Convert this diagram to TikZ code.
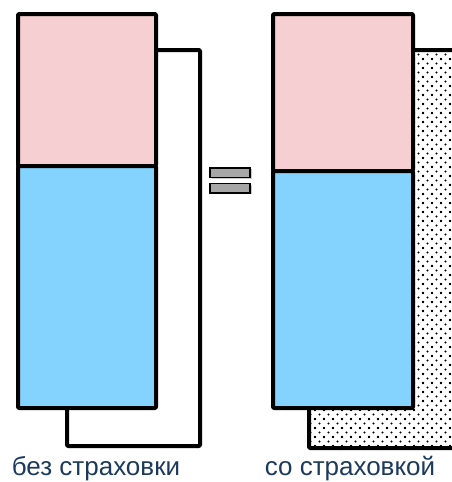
\documentclass[tikz,border=0pt]{standalone}
\usepackage{fontspec}
\setmainfont{Liberation Sans}
\usetikzlibrary{patterns,shadows}
\definecolor{pinkc}{HTML}{F5CFD1}
\definecolor{bluec}{HTML}{83D3FE}
\definecolor{txtc}{HTML}{1B3A5C}
\definecolor{barc}{HTML}{A6A6A6}
\pgfdeclarepatternformonly{stagdots}{\pgfpoint{-1.5pt}{-1.5pt}}{\pgfpoint{10.5pt}{10.5pt}}{\pgfpoint{9pt}{9pt}}{%
  \pgfpathcircle{\pgfpoint{0pt}{0pt}}{1.1pt}
  \pgfpathcircle{\pgfpoint{4.5pt}{4.5pt}}{1.1pt}
  \pgfpathcircle{\pgfpoint{9pt}{0pt}}{1.1pt}
  \pgfpathcircle{\pgfpoint{0pt}{9pt}}{1.1pt}
  \pgfpathcircle{\pgfpoint{9pt}{9pt}}{1.1pt}
  \pgfusepath{fill}}
\tikzset{
  frame/.style={draw=black, line width=4pt, rounded corners=1pt, line join=round},
  bar/.style={draw=black, line width=1.5pt, fill=barc, drop shadow={shadow xshift=1.5pt, shadow yshift=-1.5pt, fill=black!35, opacity=0.6}},
  lbl/.style={text=txtc, font=\fontsize{26}{30}\selectfont, anchor=base, inner sep=0pt}
}
\begin{document}
\begin{tikzpicture}[x=1pt,y=-1pt]
\useasboundingbox (0,0) rectangle (452,482);
\clip (0,0) rectangle (452,482);
% left panel
\draw[frame, fill=white] (67,50) rectangle (200,446);
\draw[frame, fill=pinkc] (18,14) rectangle (156,166);
\draw[frame, fill=bluec] (18,166) rectangle (156,408);
% right panel
\draw[frame, fill=white] (309,50) rectangle (460,448);
\fill[pattern=stagdots] (311,52) rectangle (458,446);
\draw[frame, fill=pinkc] (273,14) rectangle (413,171);
\draw[frame, fill=bluec] (273,171) rectangle (413,408);
% equals
\node[bar, minimum width=40pt, minimum height=9.5pt, inner sep=0pt] (eq1) at (230,172.5) {};
\node[bar, minimum width=40pt, minimum height=9.5pt, inner sep=0pt] (eq2) at (230,188) {};
% labels
\node[lbl] (l1) at (96,475.5) {без страховки};
\node[lbl] (l2) at (350,475.5) {со страховкой};
\end{tikzpicture}
\end{document}
